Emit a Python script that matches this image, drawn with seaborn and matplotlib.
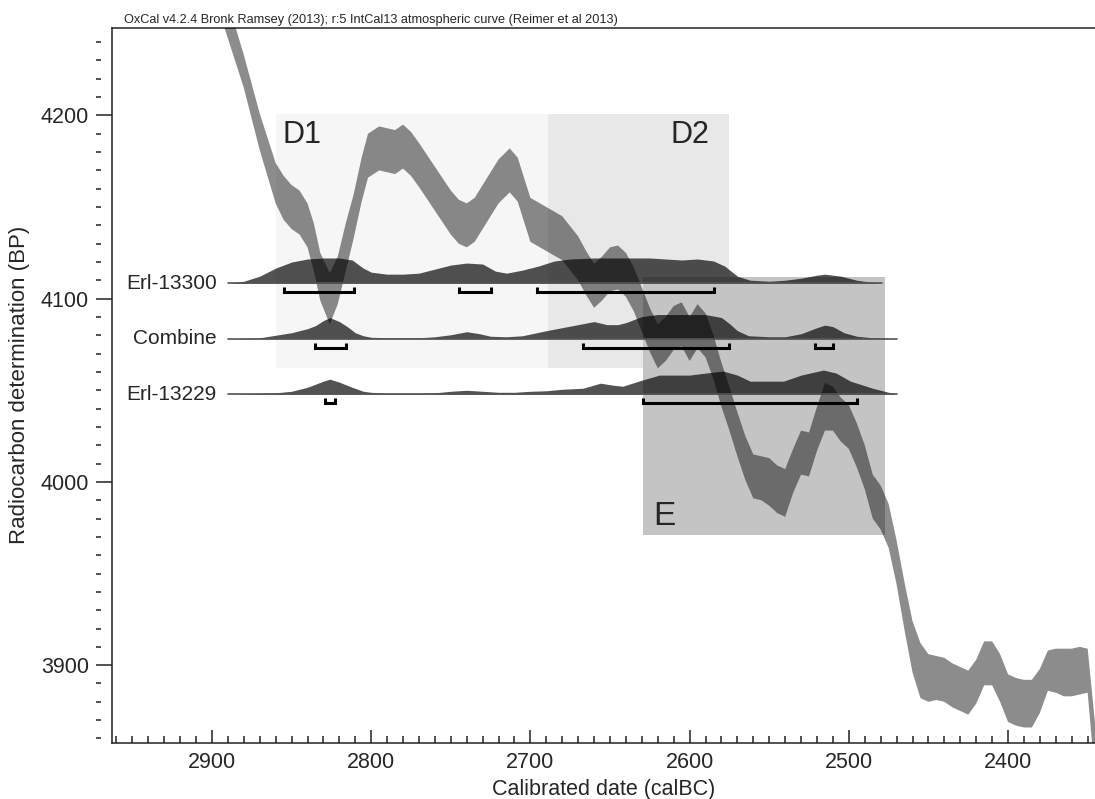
import matplotlib
matplotlib.use("Agg")
import matplotlib.pyplot as plt
import numpy as np
import seaborn as sns

# calibration curve (IntCal13), calBC -> BP centre and 1-sigma
curve_year = [2900, 2890, 2880, 2870, 2860, 2855, 2850, 2845, 2840, 2836, 2832, 2826,
              2821, 2816, 2811, 2806, 2802, 2795, 2790, 2785, 2780, 2775, 2770, 2760,
              2750, 2745, 2740, 2735, 2730, 2720, 2713, 2708, 2700, 2690, 2680, 2670,
              2665, 2660, 2655, 2650, 2645, 2640, 2635, 2630, 2625, 2620, 2615, 2610,
              2605, 2600, 2595, 2590, 2585, 2580, 2575, 2570, 2565, 2560, 2555, 2550,
              2545, 2540, 2535, 2530, 2525, 2520, 2515, 2510, 2505, 2500, 2495, 2490,
              2485, 2480, 2475, 2470, 2465, 2460, 2455, 2450, 2445, 2440, 2435, 2430,
              2425, 2420, 2415, 2410, 2405, 2400, 2395, 2390, 2385, 2380, 2375, 2370,
              2365, 2360, 2355, 2350, 2345]
curve_bp = [4280, 4252, 4224, 4191, 4163, 4155, 4150, 4147, 4140, 4128, 4112, 4100,
            4110, 4128, 4145, 4165, 4178, 4182, 4181, 4180, 4183, 4179, 4173, 4160,
            4147, 4142, 4140, 4143, 4150, 4164, 4170, 4165, 4143, 4138, 4133, 4122,
            4114, 4107, 4111, 4116, 4117, 4113, 4105, 4094, 4083, 4074, 4078, 4084,
            4086, 4078, 4085, 4080, 4068, 4053, 4040, 4026, 4013, 4003, 4002, 4000,
            3996, 3994, 4006, 4016, 4015, 4029, 4041, 4040, 4034, 4030, 4020, 4008,
            3992, 3986, 3976, 3956, 3932, 3910, 3897, 3893, 3893, 3892, 3889, 3887,
            3885, 3891, 3901, 3901, 3893, 3882, 3880, 3879, 3879, 3886, 3897, 3897,
            3896, 3896, 3897, 3897, 3850]
curve_sigma = [11, 10, 9, 10, 11, 12, 12, 12, 12, 13, 13, 14,
               13, 13, 12, 12, 12, 12, 12, 12, 12, 12, 12, 12,
               12, 12, 12, 12, 12, 12, 12, 12, 12, 12, 12, 12,
               12, 12, 12, 12, 12, 12, 12, 12, 12, 12, 12, 12,
               12, 12, 12, 12, 12, 12, 12, 12, 12, 12, 12, 13,
               13, 13, 12, 12, 12, 12, 13, 12, 12, 12, 12, 12,
               12, 12, 12, 12, 13, 14, 15, 13, 12, 12, 12, 12,
               12, 12, 12, 12, 13, 13, 13, 13, 13, 12, 11, 12,
               13, 13, 13, 12, 15]

# phases (calBC start/end, BP low/high)
phase_names = ["D1", "D2", "E"]
phase_start = [2860, 2689, 2629]
phase_end = [2689, 2575, 2477]
phase_bp_low = [4062, 4062, 3971]
phase_bp_high = [4201, 4201, 4112]
phase_label_year = [2856, 2612, 2623]

# likelihood / posterior distributions (relative probability)
sample_names = ["Erl-13300", "Combine", "Erl-13229"]
erl13300_year = [2890, 2880, 2870, 2860, 2850, 2840, 2830, 2820, 2812, 2805, 2800, 2790,
                 2780, 2770, 2760, 2750, 2740, 2730, 2722, 2715, 2705, 2695, 2685, 2675,
                 2660, 2640, 2625, 2615, 2605, 2595, 2585, 2578, 2570, 2562, 2550, 2540,
                 2530, 2520, 2515, 2505, 2495, 2488, 2479]
erl13300_prob = [0, .08, .28, .6, .84, .96, 1, 1, .92, .6, .44, .36,
                 .36, .4, .56, .72, .8, .76, .48, .4, .52, .68, .88, .96,
                 1, 1, 1, .96, .92, .96, .88, .68, .28, .12, .08, .12,
                 .2, .32, .36, .28, .12, .06, 0]
combine_year = [2890, 2880, 2870, 2860, 2850, 2840, 2835, 2830, 2826, 2820, 2815, 2810,
                2805, 2800, 2790, 2780, 2770, 2760, 2750, 2740, 2732, 2725, 2715, 2705,
                2690, 2680, 2670, 2660, 2652, 2645, 2640, 2630, 2620, 2610, 2600, 2590,
                2580, 2575, 2570, 2563, 2550, 2540, 2530, 2520, 2515, 2510, 2503, 2495,
                2485, 2470]
combine_prob = [0, .02, .04, .14, .24, .4, .52, .72, .84, .68, .48, .24,
                .12, .06, .04, .04, .04, .08, .16, .28, .2, .1, .08, .12,
                .32, .44, .56, .68, .56, .56, .64, .88, .96, .96, .96, .96,
                .84, .6, .32, .12, .08, .08, .2, .44, .54, .48, .24, .1,
                .04, 0]
erl13229_year = [2890, 2870, 2860, 2850, 2840, 2830, 2826, 2820, 2812, 2805, 2800, 2790,
                 2780, 2770, 2760, 2750, 2740, 2730, 2720, 2710, 2700, 2690, 2680, 2667,
                 2656, 2648, 2642, 2630, 2619, 2610, 2600, 2590, 2579, 2570, 2562, 2550,
                 2541, 2530, 2516, 2508, 2499, 2485, 2470]
erl13229_prob = [0, .04, .06, .12, .28, .52, .6, .48, .28, .12, .08, .04,
                 .04, .04, .06, .12, .16, .12, .08, .08, .12, .14, .2, .24,
                 .44, .36, .32, .56, .76, .76, .76, .84, .92, .76, .52, .52,
                 .52, .76, .96, .84, .52, .24, 0]

# 95.4% ranges (calBC from, to)
erl13300_ranges = [(2855, 2811), (2745, 2725), (2696, 2585)]
combine_ranges = [(2835, 2816), (2667, 2575), (2521, 2510)]
erl13229_ranges = [(2829, 2823), (2629, 2495)]

sns.set_theme(style="ticks")
plt.rcParams["font.family"] = ["Liberation Sans", "DejaVu Sans"]

W, H = 1095, 799
fig = plt.figure(figsize=(W / 100, H / 100), dpi=100)
ax = fig.add_axes([112 / W, 1 - 742.5 / H, (W - 112) / W, (742.5 - 28) / H])

# phase boxes
shades = ["#f6f6f6", "#e8e8e8", "#c4c4c4"]
for name, x0, x1, lo, hi, lx, c in zip(phase_names, phase_start, phase_end,
                                       phase_bp_low, phase_bp_high, phase_label_year, shades):
    ax.fill_between([x0, x1], lo, hi, color=c, lw=0, zorder=1)
    if name == "E":
        ax.text(lx, lo + 5.5, name, fontsize=24, ha="left", va="baseline", zorder=6)
    else:
        ax.text(lx, hi - 16, name, fontsize=22, ha="left", va="baseline", zorder=6)

# calibration curve
cy = np.array(curve_year)
cb = np.array(curve_bp)
cs = np.array(curve_sigma)
ax.fill_between(cy, cb - cs, cb + cs, color="black", alpha=0.45, lw=0, zorder=3)

# distributions
top_base, row_gap, peak = 4108.4, 30.3, 13.8
dists = [(erl13300_year, erl13300_prob, erl13300_ranges),
         (combine_year, combine_prob, combine_ranges),
         (erl13229_year, erl13229_prob, erl13229_ranges)]
for i, (name, (yrs, prob, rngs)) in enumerate(zip(sample_names, dists)):
    base = top_base - i * row_gap
    yrs = np.array(yrs)
    prob = np.array(prob)
    ax.fill_between(yrs, base, base + prob * peak, color="black", alpha=0.68, lw=0, zorder=4)
    ax.plot([yrs[0], yrs[-1]], [base, base], color="#555555", lw=1.2, zorder=4)
    ax.text(2897, base, name, fontsize=15, ha="right", va="center", zorder=6)
    yb = base - 4.9
    for a0, a1 in rngs:
        ax.plot([a0, a0, a1, a1], [yb + 2.7, yb, yb, yb + 2.7], color="black", lw=2.2,
                solid_joinstyle="miter", solid_capstyle="butt", zorder=5)

ax.set_xlim(2962.8, 2345.4)
ax.set_ylim(3857.8, 4247.7)

ax.set_xticks([2900, 2800, 2700, 2600, 2500, 2400])
ax.set_xticks(np.arange(2960, 2340, -10), minor=True)
ax.set_yticks([3900, 4000, 4100, 4200])
ax.tick_params(axis="x", which="major", direction="in", length=9.5, width=1.1,
               pad=7, labelsize=15.5, color="#222222")
ax.tick_params(axis="x", which="minor", direction="in", length=5, width=1.1, color="#222222")
ax.tick_params(axis="y", which="major", direction="out", length=11.5, width=1.1,
               pad=5, labelsize=15.5, color="#222222")
ax.tick_params(axis="y", which="minor", length=0)

# short detached minor dashes on the BP axis
minor_bp = [v for v in range(3860, 4250, 10) if v % 100]
ax.hlines(minor_bp, -0.0165, -0.011, transform=ax.get_yaxis_transform(),
          color="#222222", lw=1.1, clip_on=False)

for side in ["left", "bottom", "top"]:
    ax.spines[side].set_linewidth(1.1)
    ax.spines[side].set_color("#222222")
ax.spines["right"].set_visible(False)

ax.set_xlabel("Calibrated date (calBC)", fontsize=15.5, labelpad=4)
ax.set_ylabel("Radiocarbon determination (BP)", fontsize=16, labelpad=8)

fig.text(124 / W, 1 - 23 / H,
         "OxCal v4.2.4 Bronk Ramsey (2013); r:5 IntCal13 atmospheric curve (Reimer et al 2013)",
         fontsize=9.2, ha="left", va="baseline")

fig.savefig("out.png", dpi=100)
